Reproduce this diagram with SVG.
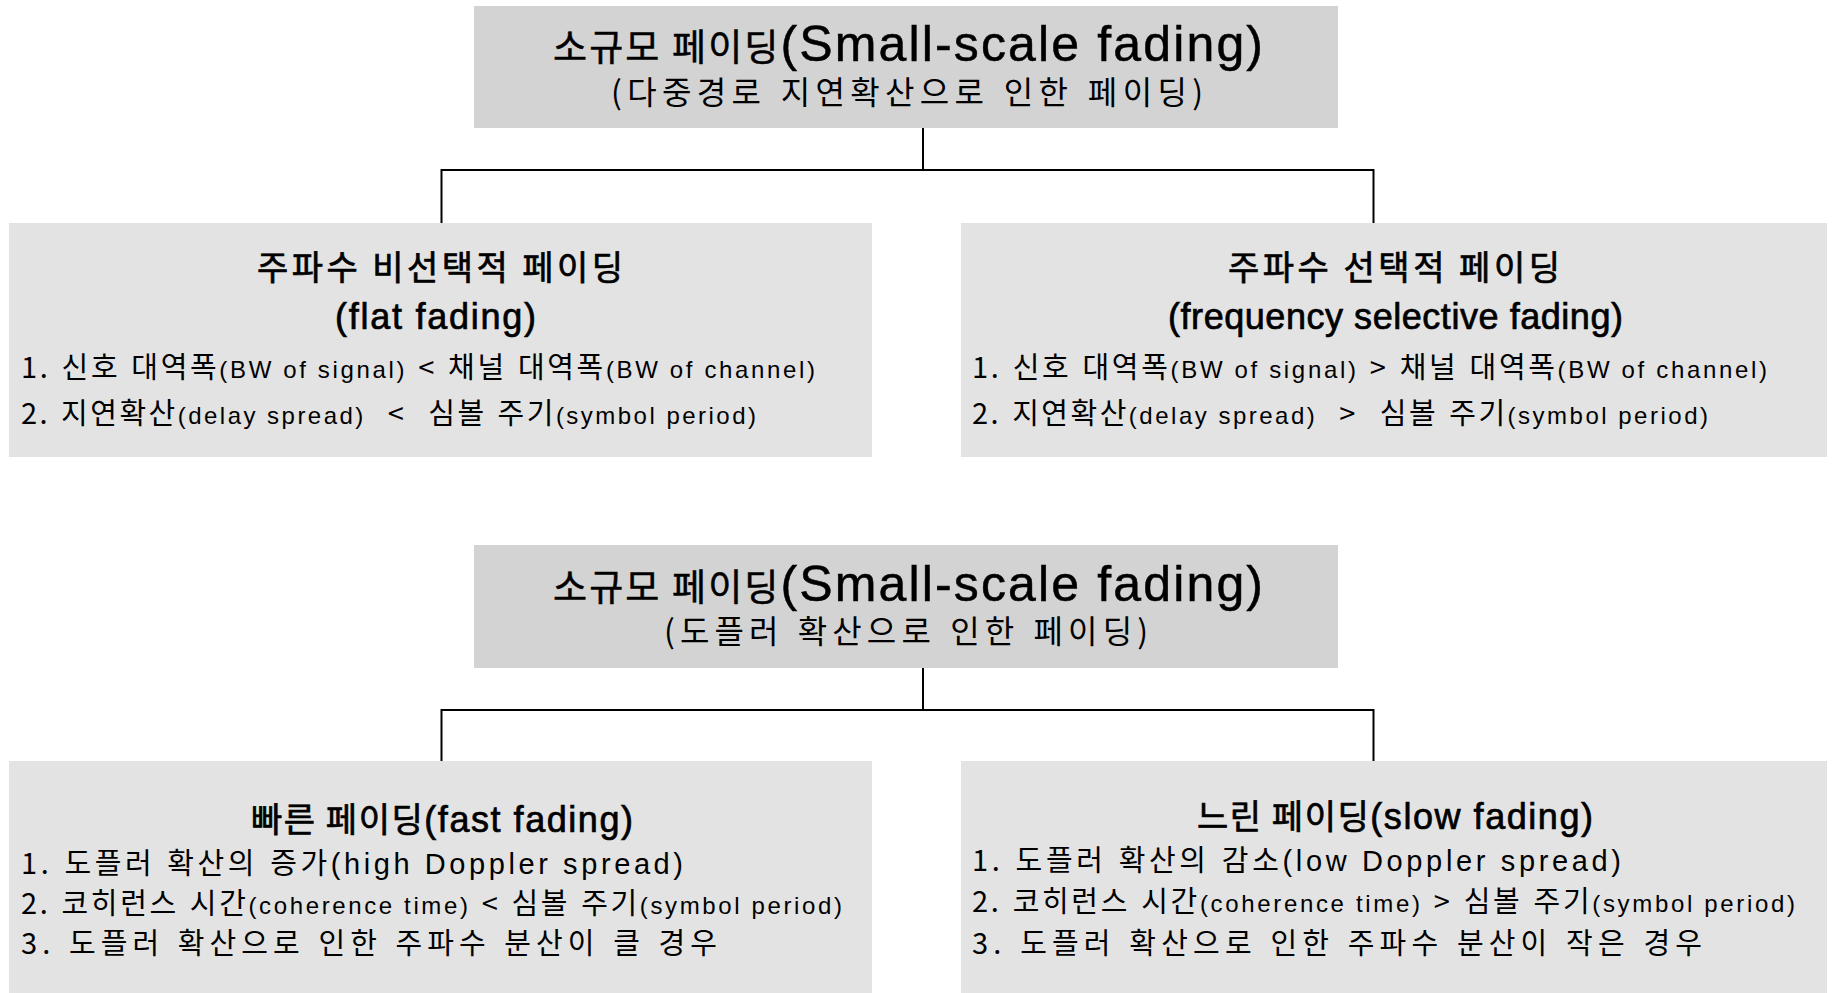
<svg xmlns="http://www.w3.org/2000/svg" width="1837" height="993" viewBox="0 0 1837 993">
  <style>
    .hd { fill: #d3d3d3; }
    .bx { fill: #e3e3e3; }
    .wire { stroke: #000; stroke-width: 2; fill: none; }
    text { font-family: "Noto Sans CJK KR", sans-serif; fill: #000; white-space: pre; }
    .en { font-family: "Liberation Sans", Arial, sans-serif; word-spacing: 0; }
    .main { font-size: 37px; stroke: #000; stroke-width: 0.5; }
    .main .en { font-size: 50px; }
    .sub { font-size: 32px; word-spacing: 2px; }
    .ttl { font-size: 34px; stroke: #000; stroke-width: 0.7; }
    .ttl .en { font-size: 36px; }
    .li { font-size: 29px; word-spacing: 2px; }
    .li .sm { font-size: 24px; }
    .li .lg { font-size: 29px; }
  </style>

  <!-- connectors -->
  <g id="connectors">
    <path class="wire" d="M923 128V170M440.5 170H1374.5M441.5 170V223M1373.5 170V223"/>
    <path class="wire" d="M923 668V710M440.5 710H1374.5M441.5 710V761M1373.5 710V761"/>
  </g>

  <!-- delay spread classification -->
  <g id="delay-root">
    <rect class="hd" x="474" y="6" width="864" height="122"/>
    <text class="main" x="553" y="61" textLength="710">소규모 페이딩<tspan class="en">(Small-scale fading)</tspan></text>
    <text class="sub" x="611" y="104" textLength="592">(다중경로 지연확산으로 인한 페이딩)</text>
  </g>

  <g id="flat-fading">
    <rect class="bx" x="9" y="223" width="863" height="234"/>
    <text class="ttl" x="257" y="280" textLength="366">주파수 비선택적 페이딩</text>
    <text class="ttl" x="335" y="329" textLength="201"><tspan class="en">(flat fading)</tspan></text>
    <text class="li" x="21" y="378" textLength="794">1. 신호 대역폭<tspan class="en sm">(BW of signal)</tspan> &lt; 채널 대역폭<tspan class="en sm">(BW of channel)</tspan></text>
    <text class="li" x="21" y="424" textLength="735">2. 지연확산<tspan class="en sm">(delay spread)</tspan>  &lt;  심볼 주기<tspan class="en sm">(symbol period)</tspan></text>
  </g>

  <g id="selective-fading">
    <rect class="bx" x="961" y="223" width="866" height="234"/>
    <text class="ttl" x="1228" y="280" textLength="332">주파수 선택적 페이딩</text>
    <text class="ttl" x="1168" y="329" textLength="455"><tspan class="en">(frequency selective fading)</tspan></text>
    <text class="li" x="972" y="378" textLength="795">1. 신호 대역폭<tspan class="en sm">(BW of signal)</tspan> &gt; 채널 대역폭<tspan class="en sm">(BW of channel)</tspan></text>
    <text class="li" x="972" y="424" textLength="736">2. 지연확산<tspan class="en sm">(delay spread)</tspan>  &gt;  심볼 주기<tspan class="en sm">(symbol period)</tspan></text>
  </g>

  <!-- doppler spread classification -->
  <g id="doppler-root">
    <rect class="hd" x="474" y="545" width="864" height="123"/>
    <text class="main" x="553" y="601" textLength="710">소규모 페이딩<tspan class="en">(Small-scale fading)</tspan></text>
    <text class="sub" x="664" y="643" textLength="484">(도플러 확산으로 인한 페이딩)</text>
  </g>

  <g id="fast-fading">
    <rect class="bx" x="9" y="761" width="863" height="232"/>
    <text class="ttl" x="251" y="832" textLength="382">빠른 페이딩<tspan class="en">(fast fading)</tspan></text>
    <text class="li" x="21" y="874" textLength="662">1. 도플러 확산의 증가<tspan class="en lg">(high Doppler spread)</tspan></text>
    <text class="li" x="21" y="914" textLength="821">2. 코히런스 시간<tspan class="en sm">(coherence time)</tspan> &lt; 심볼 주기<tspan class="en sm">(symbol period)</tspan></text>
    <text class="li" x="21" y="954" textLength="696">3. 도플러 확산으로 인한 주파수 분산이 클 경우</text>
  </g>

  <g id="slow-fading">
    <rect class="bx" x="961" y="761" width="866" height="232"/>
    <text class="ttl" x="1197" y="829" textLength="396">느린 페이딩<tspan class="en">(slow fading)</tspan></text>
    <text class="li" x="972" y="871" textLength="649">1. 도플러 확산의 감소<tspan class="en lg">(low Doppler spread)</tspan></text>
    <text class="li" x="972" y="912" textLength="823">2. 코히런스 시간<tspan class="en sm">(coherence time)</tspan> &gt; 심볼 주기<tspan class="en sm">(symbol period)</tspan></text>
    <text class="li" x="972" y="954" textLength="730">3. 도플러 확산으로 인한 주파수 분산이 작은 경우</text>
  </g>
</svg>
